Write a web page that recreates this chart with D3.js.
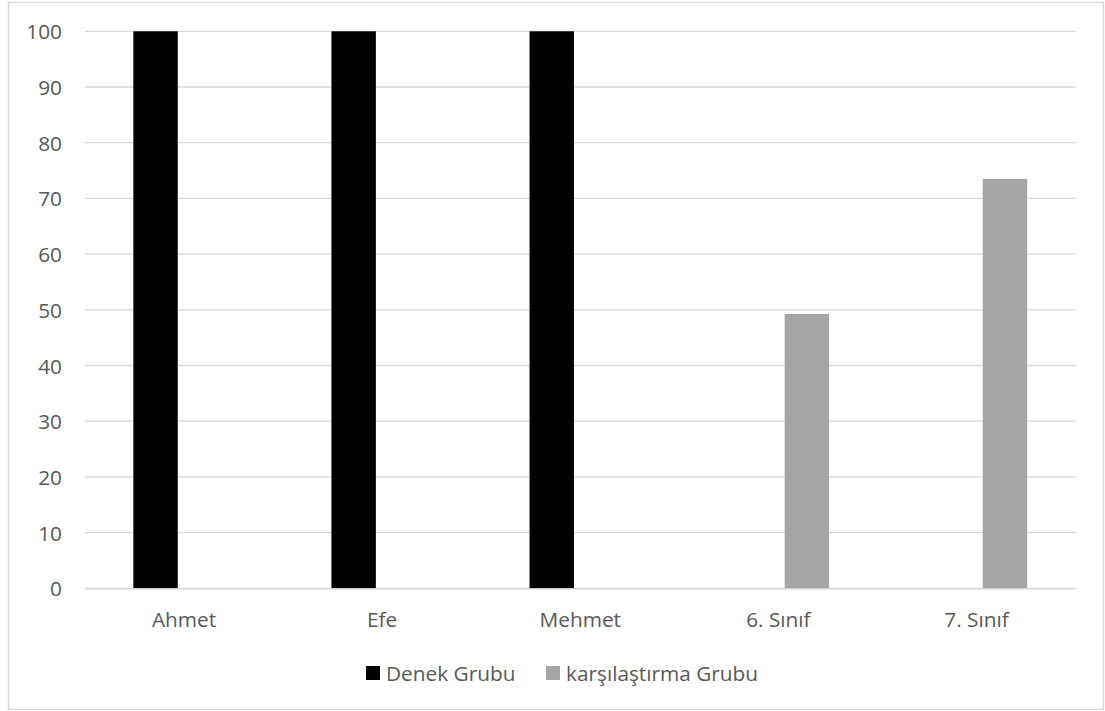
<!DOCTYPE html>
<html>
<head>
<meta charset="utf-8">
<script src="https://cdn.jsdelivr.net/npm/d3@7"></script>
<style>
  html, body { margin: 0; padding: 0; background: #ffffff; }
  svg { display: block; }
  text { font-family: "Open Sans", "Noto Sans", sans-serif; fill: #595959; }
</style>
</head>
<body>
<svg id="chart" width="1105" height="711"></svg>
<script>
// Categories and series values
const categories = ["Ahmet", "Efe", "Mehmet", "6. Sınıf", "7. Sınıf"];
const seriesNames = ["Denek Grubu", "karşılaştırma Grubu"];
const denekGrubu = [100, 100, 100, 0, 0];
const karsilastirmaGrubu = [0, 0, 0, 49.25, 73.5];
const yTicks = [0, 10, 20, 30, 40, 50, 60, 70, 80, 90, 100];
const seriesColors = ["#000000", "#a5a5a5"];

const rows = categories.map((c, i) => ({
  category: c,
  values: [
    { series: seriesNames[0], value: denekGrubu[i] },
    { series: seriesNames[1], value: karsilastirmaGrubu[i] }
  ]
}));

const fontSize = 20.8;
const svg = d3.select("#chart");

// Chart frame
svg.append("rect")
  .attr("x", 8.5).attr("y", 2.5)
  .attr("width", 1095).attr("height", 707)
  .attr("fill", "#ffffff")
  .attr("stroke", "#d9d9d9")
  .attr("stroke-width", 1.3);

const plot = { left: 85, right: 1075.5, top: 31.3, bottom: 588.3 };

const x0 = d3.scaleBand()
  .domain(categories)
  .range([plot.left, plot.right])
  .padding(0);

// Two bars per category, separated by a small gap around the band centre
const groupWidth = x0.bandwidth() * 0.512;
const x1 = d3.scaleBand()
  .domain(seriesNames)
  .range([0, groupWidth])
  .paddingInner(0.221)
  .paddingOuter(0);

const color = d3.scaleOrdinal().domain(seriesNames).range(seriesColors);

const y = d3.scaleLinear()
  .domain([0, 100])
  .range([plot.bottom, plot.top]);

// Horizontal gridlines
svg.append("g")
  .selectAll("line")
  .data(yTicks)
  .join("line")
  .attr("x1", plot.left).attr("x2", plot.right)
  .attr("y1", d => y(d)).attr("y2", d => y(d))
  .attr("stroke", "#d9d9d9")
  .attr("stroke-width", 1.3);

// Y-axis labels
const yAxis = d3.axisLeft(y).tickValues(yTicks).tickSize(0).tickPadding(0);
const yg = svg.append("g")
  .attr("transform", `translate(62,0)`)
  .call(yAxis);
yg.select(".domain").remove();
yg.selectAll("text")
  .attr("font-size", fontSize)
  .attr("font-family", "'Open Sans', sans-serif")
  .attr("fill", "#595959")
  .attr("dy", "0.36em");

// Bars
const groups = svg.append("g")
  .selectAll("g")
  .data(rows)
  .join("g")
  .attr("transform", d => `translate(${x0(d.category) + (x0.bandwidth() - groupWidth) / 2},0)`);

groups.selectAll("rect")
  .data(d => d.values)
  .join("rect")
  .attr("x", d => x1(d.series))
  .attr("width", x1.bandwidth())
  .attr("y", d => y(d.value))
  .attr("height", d => y(0) - y(d.value))
  .attr("fill", d => color(d.series));

// Category axis
const xAxis = d3.axisBottom(x0).tickSize(0).tickPadding(0);
const xg = svg.append("g")
  .attr("transform", `translate(0,${plot.bottom})`)
  .call(xAxis);
xg.select(".domain")
  .attr("stroke", "#d9d9d9")
  .attr("stroke-width", 1.3);
xg.selectAll("text")
  .attr("font-size", fontSize)
  .attr("font-family", "'Open Sans', sans-serif")
  .attr("fill", "#595959")
  .attr("dy", null)
  .attr("y", 39);

// Legend
const legendItems = [
  { name: seriesNames[0], sx: 366 },
  { name: seriesNames[1], sx: 546 }
];
const legend = svg.append("g");
legendItems.forEach(item => {
  legend.append("rect")
    .attr("x", item.sx).attr("y", 666)
    .attr("width", 14).attr("height", 14)
    .attr("fill", color(item.name));
  legend.append("text")
    .attr("x", item.sx + 20).attr("y", 681)
    .attr("font-size", fontSize)
    .text(item.name);
});
</script>
</body>
</html>
